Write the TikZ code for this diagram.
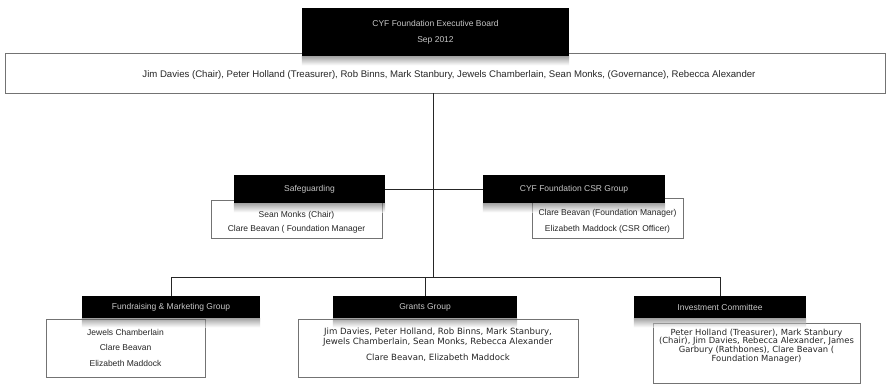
\documentclass[tikz,border=0pt]{standalone}
\usepackage{fontspec}
\setmainfont{Liberation Sans}
\newfontfamily\widefont{DejaVu Sans}
\begin{document}
\begin{tikzpicture}[x=1pt,y=-1pt,
  hdr/.style={fill=black, text=black!22, font=\fontsize{8.5}{10}\selectfont, inner sep=0pt, align=center},
  box/.style={draw=black!55, fill=white, inner sep=0pt, line width=0.6pt},
  txt/.style={font=\fontsize{8.5}{10}\selectfont, inner sep=0pt, align=center, text=black!85},
  link/.style={draw=black!85, line width=0.7pt},
  shadow/.style={top color=black!65, bottom color=white, opacity=0.55, draw=none}]
\useasboundingbox (0,0) rectangle (889,385);
\fill[white] (0,0) rectangle (889,385);

% white boxes
\node[box, minimum width=880, minimum height=40] (wide) at (445,73) {};
\node[txt, font=\fontsize{9.6}{10}\selectfont] (widet) at (449,75) {Jim Davies (Chair), Peter Holland (Treasurer), Rob Binns, Mark Stanbury, Jewels Chamberlain, Sean Monks, (Governance), Rebecca Alexander};

\node[box, minimum width=171, minimum height=38] (mlb) at (296.5,219) {};
\node[box, minimum width=151, minimum height=40] (mrb) at (607.5,218) {};
\node[box, minimum width=159, minimum height=58] (blb) at (125.5,348) {};
\node[box, minimum width=280, minimum height=58] (bmb) at (438,348) {};
\node[box, minimum width=207, minimum height=60] (brb) at (756.5,353) {};

% headers
\node[hdr, minimum width=267, minimum height=48] (top) at (435.5,32) {CYF Foundation Executive Board\\[6pt]Sep 2012};
\node[hdr, minimum width=151, minimum height=28] (ml) at (309.5,189) {Safeguarding};
\node[hdr, minimum width=182, minimum height=28] (mr) at (574,189) {CYF Foundation CSR Group};
\node[hdr, minimum width=178, minimum height=22] (bl) at (171,307) {Fundraising \& Marketing Group};
\node[hdr, minimum width=184, minimum height=22] (bm) at (425,307) {Grants Group};
\node[hdr, minimum width=172, minimum height=22] (br) at (720,307) {Investment Committee};

% header shadows
\foreach \h in {top,ml,mr,bl,bm,br}
  \shade[shadow] (\h.south west) rectangle ([yshift=-9pt]\h.south east);

% box texts
\node[txt] (mlt) at (296.5,222.5) {Sean Monks (Chair)\\[4pt]Clare Beavan ( Foundation Manager};
\node[txt] (mrt) at (607.5,221) {Clare Beavan (Foundation Manager)\\[6pt]Elizabeth Maddock (CSR Officer)};
\node[txt] (blt) at (125.5,347.5) {Jewels Chamberlain\\[5.5pt]Clare Beavan\\[5.5pt]Elizabeth Maddock};
\node[txt, font=\widefont\fontsize{8.6}{10}\selectfont] (bmt) at (438,345) {Jim Davies, Peter Holland, Rob Binns, Mark Stanbury,\\Jewels Chamberlain, Sean Monks, Rebecca Alexander\\[6pt]Clare Beavan, Elizabeth Maddock};
\node[txt, font=\widefont\fontsize{8.4}{8.8}\selectfont] (brt) at (756.5,346) {Peter Holland (Treasurer), Mark Stanbury\\(Chair), Jim Davies, Rebecca Alexander, James\\Garbury (Rathbones), Clare Beavan (\\Foundation Manager)};

% connectors
\coordinate (bus) at (433,277);
\draw[link] (wide.south -| bus) -- (bus);
\draw[link] (ml.east) -- (mr.west);
\draw[link] (bl.north) -- (bl.north |- bus) -- (br.north |- bus) -- (br.north);
\draw[link] (bm.north |- bus) -- (bm.north);
\end{tikzpicture}
\end{document}
